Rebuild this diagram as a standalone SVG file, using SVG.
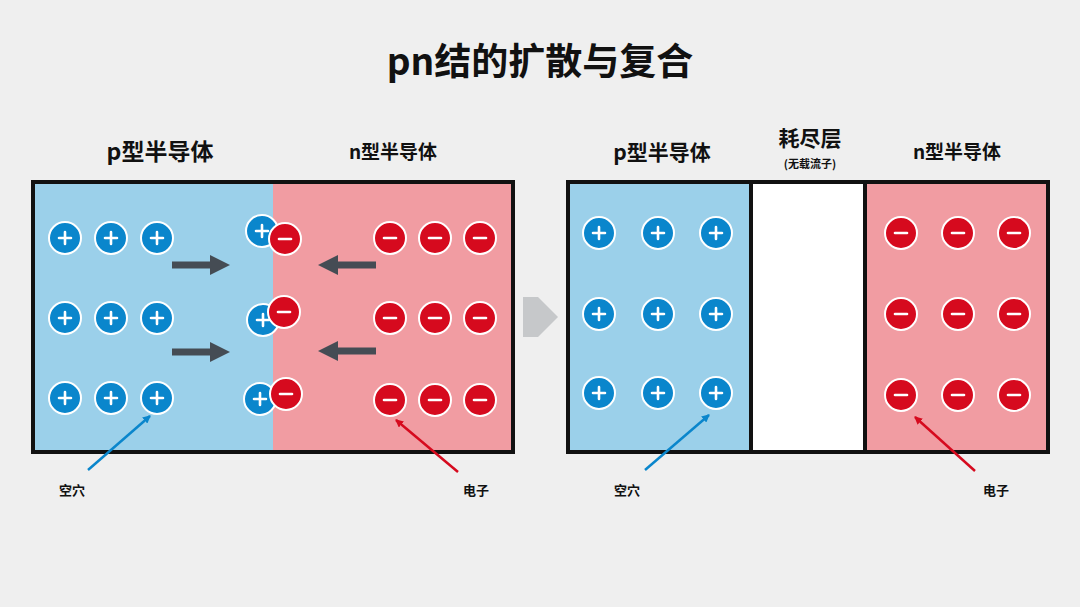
<svg xmlns="http://www.w3.org/2000/svg" width="1080" height="607" viewBox="0 0 1080 607">
<style>
text{font-family:"Noto Sans CJK SC","Liberation Sans",sans-serif;font-weight:bold;fill:#111;text-anchor:middle}
.h{fill:#0a86cc;stroke:#fff;stroke-width:2}
.e{fill:#d60a1e;stroke:#fff;stroke-width:2}
.s{stroke:#fff;stroke-width:2.6;stroke-linecap:round}
.lbl{font-size:13px}
.ga{stroke:#454c54;stroke-width:7;marker-end:url(#ag)}
</style>
<defs>
<g id="P"><circle class="h" r="16"/><path class="s" d="M-6 0H6M0-6V6"/></g>
<g id="M"><circle class="e" r="16"/><path class="s" d="M-6 0H6"/></g>
<marker id="ab" markerWidth="8" markerHeight="8" refX="7" refY="4" orient="auto" markerUnits="userSpaceOnUse"><path d="M0 0L8 4L0 8z" fill="#0a86cc"/></marker>
<marker id="ar" markerWidth="8" markerHeight="8" refX="7" refY="4" orient="auto" markerUnits="userSpaceOnUse"><path d="M0 0L8 4L0 8z" fill="#d60a1e"/></marker>
<marker id="ag" markerWidth="20" markerHeight="20" refX="2" refY="10" orient="auto" markerUnits="userSpaceOnUse"><path d="M0 0L20 10L0 20z" fill="#454c54"/></marker>
</defs>
<rect width="1080" height="607" fill="#efefef"/>
<text x="540" y="75" font-size="37">pn结的扩散与复合</text>
<g id="left-panel">
<rect x="33" y="182" width="240" height="270" fill="#9bd0ea"/>
<rect x="273" y="182" width="240" height="270" fill="#f19ca2"/>
<rect x="33" y="182" width="480" height="270" fill="none" stroke="#111" stroke-width="4"/>
<text x="160" y="160" font-size="23">p型半导体</text>
<text x="393" y="159" font-size="19">n型半导体</text>
</g>
<g id="left-holes">
<use href="#P" x="65" y="238"/><use href="#P" x="111" y="238"/><use href="#P" x="157" y="238"/>
<use href="#P" x="65" y="318"/><use href="#P" x="111" y="318"/><use href="#P" x="157" y="318"/>
<use href="#P" x="65" y="398"/><use href="#P" x="111" y="398"/><use href="#P" x="157" y="398"/>
<use href="#P" x="262" y="231"/><use href="#P" x="263" y="320"/><use href="#P" x="260" y="399"/>
</g>
<g id="left-electrons">
<use href="#M" x="285" y="239"/><use href="#M" x="284" y="312"/><use href="#M" x="286" y="394"/>
<use href="#M" x="390" y="238"/><use href="#M" x="435" y="238"/><use href="#M" x="480" y="238"/>
<use href="#M" x="390" y="318"/><use href="#M" x="435" y="318"/><use href="#M" x="480" y="318"/>
<use href="#M" x="390" y="400"/><use href="#M" x="435" y="400"/><use href="#M" x="480" y="400"/>
</g>
<g id="right-panel">
<rect x="568" y="182" width="183" height="270" fill="#9bd0ea"/>
<rect x="751" y="182" width="114" height="270" fill="#fff"/>
<rect x="865" y="182" width="183" height="270" fill="#f19ca2"/>
<rect x="568" y="182" width="480" height="270" fill="none" stroke="#111" stroke-width="4"/>
<path d="M751 182V452M865 182V452" stroke="#111" stroke-width="4"/>
<text x="662" y="160" font-size="21">p型半导体</text>
<text x="810" y="146" font-size="21">耗尽层</text>
<text x="810" y="168" font-size="11">(无载流子)</text>
<text x="957" y="159" font-size="19">n型半导体</text>
</g>
<g id="right-holes">
<use href="#P" x="599" y="233"/><use href="#P" x="658" y="233"/><use href="#P" x="716" y="233"/>
<use href="#P" x="599" y="314"/><use href="#P" x="658" y="314"/><use href="#P" x="716" y="314"/>
<use href="#P" x="599" y="393"/><use href="#P" x="658" y="393"/><use href="#P" x="716" y="393"/>
</g>
<g id="right-electrons">
<use href="#M" x="901" y="233"/><use href="#M" x="958" y="233"/><use href="#M" x="1014" y="233"/>
<use href="#M" x="901" y="314"/><use href="#M" x="958" y="314"/><use href="#M" x="1014" y="314"/>
<use href="#M" x="901" y="395"/><use href="#M" x="958" y="395"/><use href="#M" x="1014" y="395"/>
</g>
<g id="connectors">
<path class="ga" d="M172 265H212"/><path class="ga" d="M172 352H212"/>
<path class="ga" d="M376 265H336"/><path class="ga" d="M376 351H336"/>
<path d="M523 297H538L558 317L538 337H523V297z" fill="#c6c8ca"/>
<path d="M88 470L150 416" stroke="#0a86cc" stroke-width="2.5" marker-end="url(#ab)"/>
<path d="M458 472L396 420" stroke="#d60a1e" stroke-width="2.5" marker-end="url(#ar)"/>
<path d="M645 470L709 415" stroke="#0a86cc" stroke-width="2.5" marker-end="url(#ab)"/>
<path d="M975 471L915 417" stroke="#d60a1e" stroke-width="2.5" marker-end="url(#ar)"/>
</g>
<g id="labels">
<text class="lbl" x="72" y="495">空穴</text>
<text class="lbl" x="476" y="495">电子</text>
<text class="lbl" x="627" y="495">空穴</text>
<text class="lbl" x="996" y="495">电子</text>
</g>
</svg>
